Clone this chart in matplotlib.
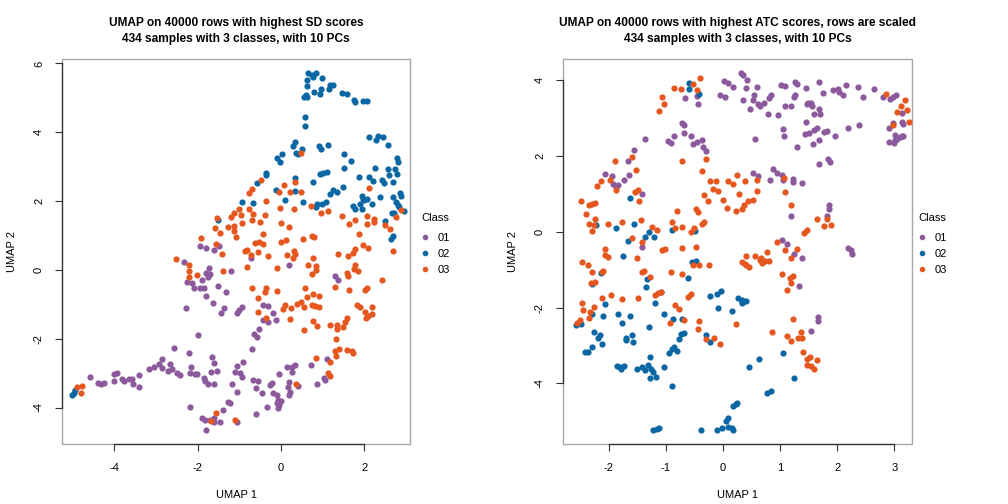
import numpy as np
import matplotlib
matplotlib.use("Agg")
import matplotlib.pyplot as plt
from matplotlib.patches import Rectangle
from matplotlib.lines import Line2D

# ---------- data ----------
class_labels = ["01", "02", "03"]
class_colors = ["#8C5A9C", "#0A67A3", "#E5571F"]

titles = [
    "UMAP on 40000 rows with highest SD scores\n434 samples with 3 classes, with 10 PCs",
    "UMAP on 40000 rows with highest ATC scores, rows are scaled\n434 samples with 3 classes, with 10 PCs",
]

# panel 1 (SD)
sd_01 = np.array([
    (-1.48, 0.70), (-1.94, 0.70), (-1.80, 0.65), (-1.62, 0.57),
    (-0.73, 0.34), (0.20, 0.15), (1.30, -0.17), (1.38, -0.29), (-1.20, -0.02),
    (-0.43, -1.02), (-0.32, -1.04), (-0.94, -1.07), (-1.01, -1.16), (-1.05, -1.26), (-0.18, -1.26),
    (-0.43, -1.47), (-0.31, -1.50), (-0.11, -1.46), (-0.52, -1.72), (-0.65, -1.87), (-0.57, -1.96), (-0.69, -2.30),
    (1.11, -2.60), (-0.91, -2.68), (-1.05, -2.78), (-1.11, -2.96), (-0.99, -3.00), (-0.93, -3.10),
    (0.15, -2.83), (0.26, -2.83), (0.34, -2.76), (0.26, -2.98), (0.73, -2.76), (-0.04, -3.03),
    (1.03, -3.13), (1.06, -3.20), (-0.68, -3.20), (-0.55, -3.22), (-0.26, -3.34), (-0.22, -3.29),
    (0.20, -3.25), (0.18, -3.39), (0.22, -3.54), (0.20, -3.63), (0.42, -3.37), (0.87, -3.32), (-1.17, -3.31),
    (-0.59, -3.44), (-0.46, -3.59), (-1.06, -3.56), (-0.18, -3.57), (-0.09, -3.63), (-0.06, -3.78), (-0.10, -3.88),
    (-0.04, -3.92), (0.00, -3.80), (-0.08, -4.02), (-0.34, -3.99), (-0.59, -4.19), (-1.06, -4.43), (-1.23, -3.88),
    (-2.32, 0.24), (-1.72, 0.05), (-1.80, -0.08), (-1.71, -0.12), (-1.75, -0.21), (-1.90, -0.29),
    (-2.26, -0.36), (-2.14, -0.39), (-2.10, -0.53), (-1.94, -0.53), (-1.85, -0.53), (-1.51, -0.47), (-1.33, -0.65),
    (-1.80, -0.77), (-1.63, -0.97), (-1.36, -1.10), (-1.43, -1.26), (-2.28, -1.10),
    (-2.00, -1.90), (-2.58, -2.28), (-2.20, -2.41), (-1.65, -2.54), (-1.60, -2.71),
    (-2.86, -2.60), (-2.94, -2.73), (-3.05, -2.83), (-3.18, -2.88), (-2.66, -2.74), (-2.86, -2.86),
    (-2.72, -2.93), (-2.62, -2.89), (-2.50, -3.00), (-2.42, -3.06),
    (-2.16, -2.81), (-2.18, -3.00), (-2.07, -3.02), (-2.02, -3.03), (-1.68, -2.98), (-1.53, -2.95),
    (-1.86, -3.15), (-1.82, -3.23), (-1.76, -3.32), (-1.62, -3.32), (-1.27, -3.85), (-1.40, -4.07), (-2.19, -3.99),
    (-1.90, -4.31), (-1.82, -4.36), (-1.70, -4.36), (-1.62, -4.31), (-1.62, -4.41), (-1.46, -4.42), (-1.79, -4.65),
    (-3.41, -3.05), (-3.42, -3.39), (-4.01, -3.03), (-3.94, -3.00), (-4.01, -3.23), (-3.82, -3.18),
    (-3.76, -3.23), (-3.66, -3.18), (-3.58, -3.18), (-3.56, -3.31),
    (-4.40, -3.29), (-4.26, -3.28), (-4.32, -3.31), (-4.58, -3.12),
])
sd_02 = np.array([
    (-1.51, 1.44), (-0.94, 1.98),
    (0.66, 5.71), (0.74, 5.66), (0.83, 5.73), (0.78, 5.61), (0.62, 5.51), (0.99, 5.58), (0.62, 5.34), (0.97, 5.27),
    (1.18, 5.37), (1.24, 5.37), (1.15, 5.25), (0.80, 5.17), (0.94, 5.10), (0.60, 5.08), (0.63, 5.03), (0.55, 5.03),
    (1.47, 5.13), (1.58, 5.11), (1.76, 4.95), (1.78, 4.88), (1.98, 4.90), (2.06, 4.90), (0.58, 4.43), (0.58, 4.18),
    (2.12, 3.85), (2.34, 3.90), (2.46, 3.85), (2.28, 3.77), (2.58, 3.62), (0.34, 3.71), (0.28, 3.60), (0.51, 3.51),
    (0.92, 3.60), (0.95, 3.51), (1.13, 3.63), (0.35, 3.40), (0.41, 3.38), (0.03, 3.36), (-0.09, 3.25), (-0.02, 3.13),
    (1.51, 3.38), (2.78, 3.26), (2.81, 3.14), (1.68, 3.16), (2.26, 2.97), (1.52, 2.97),
    (2.56, 2.93), (2.73, 2.92), (2.78, 2.80), (2.60, 2.75), (-0.37, 2.82), (-0.37, 2.75),
    (0.94, 2.80), (1.02, 2.83), (1.10, 2.85), (1.88, 2.70), (2.12, 2.70), (2.42, 2.61), (2.48, 2.53), (2.22, 2.59), (2.70, 2.55),
    (-0.58, 2.53), (0.34, 2.66), (0.76, 2.55), (-0.13, 2.33), (0.34, 2.29), (1.48, 2.41), (1.26, 2.32), (1.34, 2.27), (1.18, 2.20),
    (1.94, 2.14), (1.98, 2.07), (1.90, 1.93), (2.00, 2.03), (2.06, 2.07), (2.38, 2.12),
    (2.70, 2.12), (2.86, 2.24), (2.76, 1.98), (2.81, 1.88), (2.88, 2.14), (2.96, 1.72), (2.84, 1.83), (2.66, 1.66), (2.72, 1.64),
    (-0.67, 1.95), (0.10, 2.03), (0.52, 1.98), (0.86, 1.93), (0.98, 1.93), (1.08, 1.98), (0.84, 1.83),
    (1.74, 1.85), (1.78, 1.78), (2.19, 1.91), (1.94, 1.78), (2.51, 1.43), (2.68, 0.99), (2.64, 0.91),
    (-4.94, -3.49), (-4.98, -3.59), (-5.02, -3.65),
])
sd_03 = np.array([
    (-1.53, 1.51), (-1.01, 1.76), (-1.13, 1.65), (-1.19, 1.55), (-0.96, 1.59), (-0.94, 1.36), (-1.27, 1.26),
    (-1.12, 1.28), (-1.12, 1.12), (-1.59, 1.22), (-1.47, 1.07), (-1.08, 0.95), (-1.91, 0.92), (-1.56, 0.75), (-1.41, 0.46),
    (0.49, 3.41), (-0.47, 2.61), (0.07, 2.47), (0.34, 2.55), (-0.70, 2.35), (-0.76, 2.24), (-0.05, 2.27), (0.22, 2.27), (0.49, 2.27),
    (2.12, 2.38), (2.88, 1.75), (2.76, 1.54), (-0.37, 2.00), (-0.02, 1.80), (0.31, 1.76), (0.73, 1.86), (0.95, 1.66), (1.14, 1.72),
    (1.46, 1.56), (1.79, 1.44), (1.64, 1.33), (2.06, 1.56), (2.06, 1.33), (2.24, 1.48), (2.24, 1.40), (2.50, 1.30), (2.62, 1.18),
    (-0.76, 1.76), (-0.67, 1.62), (-0.70, 1.44), (-0.50, 1.40), (-0.38, 1.59), (-0.43, 1.05), (-0.01, 1.35), (0.20, 1.24),
    (1.88, 1.04), (2.70, 0.54),
    (-0.63, 0.78), (-0.52, 0.81), (-0.43, 0.75), (-0.87, 0.55), (-0.81, 0.59), (-0.55, 0.52), (-0.01, 0.81), (0.12, 0.88),
    (0.52, 0.90), (0.74, 0.99), (0.80, 0.96),
    (0.32, 0.54), (0.15, 0.43), (0.34, 0.45), (1.38, 0.47), (1.60, 0.40), (1.72, 0.49), (1.79, 0.60), (1.98, 0.72), (2.10, 0.64),
    (-0.73, 0.42), (-0.31, 0.40),
    (0.30, 0.34), (0.78, 0.34), (-0.81, 0.08), (-0.09, 0.05), (0.64, 0.13), (0.83, 0.12), (0.84, 0.00), (0.75, -0.12),
    (1.78, 0.15), (1.75, 0.02), (1.86, -0.03), (1.58, -0.10), (1.62, -0.17), (2.42, -0.29),
    (-0.69, -0.53), (-0.36, -0.53), (-0.38, -0.65), (-0.10, -0.60), (0.58, -0.53), (0.76, -0.70), (0.92, -0.76), (0.62, -0.80),
    (1.31, -0.51), (1.64, -0.58), (2.02, -0.58), (2.06, -0.53), (-0.54, -0.83), (-0.55, -1.23),
    (0.10, -1.02), (0.04, -1.14), (0.25, -1.10), (0.38, -0.99), (0.47, -0.92), (0.55, -1.07), (0.75, -1.02), (0.82, -1.05), (0.92, -1.07),
    (1.82, -1.02), (1.90, -1.07), (2.18, -1.09), (2.02, -1.23), (2.18, -1.28), (2.04, -1.41), (2.08, -1.34), (1.58, -1.41), (1.54, -1.50),
    (-0.36, -1.41), (0.22, -1.43), (0.78, -1.48), (0.87, -1.62), (0.55, -1.76), (1.19, -1.61), (1.35, -1.60), (1.34, -1.71), (1.48, -1.65),
    (1.32, -2.01), (1.40, -2.29), (1.30, -2.35), (1.32, -2.50), (1.58, -2.33), (1.70, -2.35), (1.74, -2.42), (0.84, -2.57), (1.18, -2.68),
    (1.14, -3.00), (1.18, -3.07), (0.36, -3.32), (-1.11, -4.36),
    (-2.53, 0.31), (-2.20, 0.15), (-2.22, -0.04), (-2.20, -0.21), (-2.02, -0.15), (-1.39, -0.03),
    (-1.56, -4.17), (-1.68, -4.38), (-4.90, -3.39), (-4.78, -3.37), (-4.81, -3.57),
])

# panel 2 (ATC, scaled rows)
atc_01 = np.array([
    (0.32, 4.19), (0.36, 4.15), (-0.45, 3.58), (0.02, 3.97), (0.09, 3.93), (0.17, 3.82), (-0.05, 3.61), (0.04, 3.57),
    (0.36, 3.49), (-0.66, 3.53), (-0.43, 3.36),
    (-0.71, 2.88), (-0.68, 2.81), (-0.68, 2.62), (-0.85, 2.54), (-0.56, 2.52), (-1.36, 2.45), (-0.96, 2.39), (-0.91, 2.34),
    (-0.52, 2.32), (-0.46, 2.37), (-0.36, 2.43), (-0.35, 2.25), (-0.29, 2.13), (-1.55, 2.17), (-1.66, 1.88),
    (-2.07, 1.52), (-1.95, 1.47), (-1.64, 1.49), (-1.73, 1.38), (-1.92, 1.25), (-1.84, 1.24), (-1.88, 1.18), (-1.42, 0.99), (-1.42, -0.39),
    (0.43, 4.01), (0.41, 3.80), (0.59, 3.82), (0.54, 3.61), (0.53, 3.47), (0.61, 3.38), (0.65, 3.33), (0.72, 3.40), (0.84, 3.62), (0.81, 3.54),
    (0.47, 3.23), (0.79, 3.11), (0.97, 3.07), (1.02, 3.88), (1.09, 3.86), (1.26, 3.95), (1.30, 3.89), (1.45, 3.80), (1.68, 3.95),
    (1.26, 3.61), (1.25, 3.57),
    (1.76, 3.65), (1.93, 3.73), (2.02, 3.77), (2.03, 3.69), (2.11, 3.60), (2.15, 3.88), (2.37, 3.81), (2.46, 3.55), (2.65, 3.76),
    (1.09, 3.31), (1.19, 3.31), (1.49, 3.40), (1.54, 3.41), (1.56, 3.32), (1.47, 3.38), (1.68, 3.23), (1.59, 3.11), (1.70, 3.10), (1.45, 2.91),
    (1.06, 2.71), (1.07, 2.53), (0.57, 2.45), (1.44, 2.58), (1.51, 2.60), (1.60, 2.69), (1.65, 2.74), (1.77, 2.63), (1.83, 2.67),
    (1.97, 2.52), (2.19, 2.74), (2.39, 2.82),
    (1.58, 2.33), (1.69, 2.41), (1.30, 2.23), (1.84, 1.93), (1.87, 1.84), (1.69, 1.78),
    (2.81, 3.57), (2.93, 3.51), (2.98, 3.57), (3.03, 3.60), (3.13, 3.13), (2.98, 2.88), (3.13, 2.91), (3.16, 2.85), (2.91, 2.74),
    (3.02, 2.56), (3.13, 2.54), (3.16, 2.53), (3.01, 2.41), (3.05, 2.46), (3.10, 2.50), (2.90, 2.36), (3.00, 2.34),
    (0.87, 1.65), (0.94, 1.56), (1.03, 1.49), (1.05, 1.36), (1.23, 1.40), (1.23, 1.31), (1.38, 1.29), (0.83, 1.36), (0.53, 1.56), (0.61, 1.46),
    (1.19, 0.41), (1.86, 0.70), (1.86, 0.59), (1.83, 0.41), (1.03, -0.21), (1.12, -0.32), (2.19, -0.43), (2.25, -0.49), (2.26, -0.58),
    (1.24, -0.58), (1.39, -0.68), (1.34, -1.44),
    (1.66, -2.24), (1.66, -2.36), (1.54, -2.61),
])
atc_02 = np.array([
    (-0.60, 3.92), (-0.60, 3.77), (-0.42, 3.63), (-1.63, 0.89), (-2.22, 0.17), (-1.87, 0.10), (-1.55, 0.20), (-1.29, -0.01),
    (-1.37, -0.14), (-1.20, -0.14), (-1.66, -0.23), (-0.89, 0.04), (-0.49, 0.02),
    (-1.75, -0.63), (-2.14, -1.08), (-2.29, -1.39), (-1.33, -1.25), (-0.61, -1.23), (-1.35, -1.45), (-0.54, -0.81), (-0.47, -0.77),
    (-2.57, -2.46), (-2.49, -2.44), (-2.30, -2.17), (-2.07, -1.91), (-2.10, -2.22), (-1.19, -1.89), (-1.08, -1.58), (-1.84, -2.18),
    (-1.63, -2.22), (-1.77, -2.40),
    (-1.29, -2.50), (-1.03, -2.18), (-0.87, -2.30), (-0.72, -2.29), (-0.22, -1.70), (-0.10, -1.64), (-0.03, -1.56), (-0.08, -2.02),
    (0.15, -2.08), (0.27, -1.74), (0.33, -1.85),
    (-0.30, -2.73), (-0.23, -2.92), (-2.25, -2.64), (-2.19, -2.81), (-2.15, -2.73), (-2.11, -2.97), (-2.36, -3.17), (-2.30, -3.05), (-2.42, -3.17),
    (-1.70, -2.79), (-1.60, -2.73), (-1.57, -2.90), (-1.69, -2.86), (-0.74, -2.70), (-0.68, -2.66), (-0.77, -2.83), (-0.81, -3.15),
    (-0.90, -3.10), (-0.95, -3.19), (-0.85, -3.05),
    (-1.27, -3.31), (-1.86, -3.54), (-1.80, -3.58), (-1.73, -3.54), (-1.79, -3.63), (-1.51, -3.63), (-1.41, -3.56), (-1.37, -3.65),
    (-1.31, -3.52), (-1.26, -3.63), (-1.22, -3.71), (-1.17, -3.83), (-1.28, -3.87),
    (-1.04, -3.56), (-0.89, -4.07), (0.22, -4.55), (0.18, -4.60), (0.08, -4.91), (0.06, -4.99), (-1.22, -5.23), (-1.16, -5.21),
    (-1.12, -5.19), (-0.38, -5.24),
    (-0.11, -5.24), (-0.01, -5.19), (0.09, -5.14), (0.15, -5.19), (0.18, -5.23),
    (0.34, -1.80), (0.41, -1.83), (0.33, -1.89), (1.05, -3.19), (0.64, -3.37), (0.46, -3.56), (1.24, -3.87), (0.77, -4.25),
    (0.84, -4.20), (0.24, -4.53),
])
atc_03 = np.array([
    (-0.40, 4.06), (-0.52, 3.89), (-0.85, 3.79), (-0.73, 3.77), (-0.45, 3.73), (-1.06, 3.55), (-1.03, 3.38), (-1.12, 3.18),
    (-0.29, 1.91), (-1.59, 1.97), (-1.89, 1.86), (-0.71, 1.86), (-1.53, 1.62), (-0.36, 1.60), (-2.14, 1.34), (-1.97, 1.36),
    (-2.21, 1.20), (-1.88, 1.09),
    (-0.23, 1.34), (-0.13, 1.34), (0.09, 1.34), (0.17, 1.27), (0.24, 1.51), (0.39, 1.34), (-0.17, 1.12), (-0.08, 1.07), (0.28, 1.00),
    (-1.54, 1.05), (-1.48, 1.11), (-0.34, 0.97), (-1.47, 0.81), (-0.26, 0.81), (0.00, 0.83), (0.37, 0.70), (0.07, 0.63),
    (0.23, 0.56), (0.34, 0.61),
    (-2.49, 0.80), (-2.35, 0.71), (-2.30, 0.74), (-2.24, 0.77), (-2.40, 0.47), (-0.81, 0.54), (-0.47, 0.61), (-0.43, 0.52),
    (-2.24, 0.33), (-2.34, 0.21), (-2.26, 0.17), (-2.29, 0.02), (-2.02, 0.21), (-1.76, 0.26), (-1.44, 0.32), (-1.24, 0.12),
    (-1.16, 0.06), (-1.60, -0.17),
    (-0.89, 0.26), (-0.71, 0.12), (-0.84, 0.10), (-0.50, 0.10), (-0.56, -0.01), (-0.36, 0.21), (-0.33, 0.26),
    (-1.41, -0.28), (-2.07, -0.45), (-1.07, -0.49), (-1.02, -0.46), (-0.71, -0.42), (-0.47, -0.40),
    (1.07, 1.42), (0.60, 1.36), (0.59, 1.07), (1.09, 1.05), (0.53, 0.84), (0.44, 0.80), (1.19, 0.70),
    (1.83, 0.34), (1.89, 0.17), (1.77, 0.14), (1.65, 0.33), (1.47, 0.04), (1.42, -0.03), (0.95, -0.27), (1.09, -0.49),
    (1.29, -0.46), (0.78, -0.54), (0.41, -0.65), (0.57, -0.63), (0.67, -0.69),
    (2.85, 3.63), (3.18, 3.47), (3.12, 3.33), (3.23, 3.22), (3.04, 3.16), (3.25, 2.89), (2.97, 2.81),
    (-2.46, -0.79), (-2.37, -0.88), (-2.07, -0.61), (-2.02, -0.66), (-1.51, -0.68), (-2.29, -1.07), (-2.12, -1.05), (-2.10, -1.03),
    (-2.31, -1.34), (-2.24, -1.32),
    (-1.42, -1.07), (-1.38, -1.03), (-1.28, -1.19), (-0.91, -1.07), (-0.71, -1.12),
    (-0.53, -0.88), (-0.42, -0.88), (-0.24, -0.88), (0.33, -0.79), (0.39, -0.85),
    (-2.11, -1.74), (-1.96, -1.66), (-1.77, -1.78), (-1.49, -1.76), (-2.46, -1.87), (-2.45, -2.07), (-2.33, -2.11), (-2.25, -1.98),
    (-2.35, -2.27), (-2.50, -2.33), (-2.56, -2.40),
    (-1.19, -1.67), (-1.14, -1.61), (-1.09, -1.58), (-0.84, -1.92), (-0.77, -2.05), (-0.68, -2.33), (-0.92, -2.42), (-0.62, -1.71), (-0.56, -1.64),
    (-0.42, -2.36), (-0.44, -2.57), (0.23, -2.44), (-0.30, -2.83), (-0.15, -2.79), (-0.06, -2.97),
    (0.41, -0.88), (0.46, -0.92), (0.65, -0.75), (0.68, -0.82), (0.74, -0.77), (0.81, -0.77), (1.20, -0.70),
    (1.04, -1.12), (1.17, -1.23), (1.23, -1.17), (1.19, -1.35), (1.13, -1.54), (1.23, -2.29), (0.86, -2.65),
    (1.13, -2.75), (1.20, -2.88), (1.31, -2.79), (1.37, -2.64), (1.38, -2.81), (1.41, -3.18), (1.48, -3.37), (1.52, -3.31),
    (1.64, -3.39), (1.48, -3.52), (1.54, -3.54), (1.60, -3.63),
])

sd_xticks = [-4, -2, 0, 2]
sd_yticks = [-4, -2, 0, 2, 4, 6]
atc_xticks = [-2, -1, 0, 1, 2, 3]
atc_yticks = [-4, -2, 0, 2, 4]

# ---------- layout (pixel boxes of the two panels) ----------
W, H = 1008, 504
FONT = ["Liberation Sans", "DejaVu Sans"]

def _axes_rect(x0, x1, y0, y1):
    return [x0 / W, 1 - y1 / H, (x1 - x0) / W, (y1 - y0) / H]

def _panel(fig, rect, groups, xlim, ylim, xticks, yticks, title, legend_xy):
    ax = fig.add_axes(rect)
    for pts, col in zip(groups, class_colors):
        ax.scatter(pts[:, 0], pts[:, 1], s=20, c=col, linewidths=0, zorder=3)
    ax.set_xlim(*xlim); ax.set_ylim(*ylim)
    ax.set_xticks(xticks); ax.set_yticks(yticks)
    ax.set_xticklabels([str(t) for t in xticks], fontsize=8, family=FONT)
    ax.set_yticklabels([str(t) for t in yticks], fontsize=8, family=FONT,
                       rotation=90, va="center")
    ax.tick_params(length=5, width=0.8, color="#333333", pad=9)
    ax.tick_params(axis="y", pad=8)
    for side in ("top", "right"):
        ax.spines[side].set_visible(False)
    ax.spines["bottom"].set_bounds(xticks[0], xticks[-1])
    ax.spines["left"].set_bounds(yticks[0], yticks[-1])
    for side in ("bottom", "left"):
        ax.spines[side].set_color("#333333"); ax.spines[side].set_linewidth(0.9)
    ax.add_patch(Rectangle((0, 0), 1, 1, transform=ax.transAxes, fill=False,
                           ec="#a8a8a8", lw=1.0, clip_on=False, zorder=1))
    ax.set_xlabel("UMAP 1", fontsize=8, family=FONT, labelpad=12)
    ax.set_ylabel("UMAP 2", fontsize=8, family=FONT, labelpad=12)
    ax.set_title(title, fontsize=8.6, fontweight="bold", family=FONT,
                 pad=12.5, linespacing=1.45)

    handles = [Line2D([], [], ls="none", marker="o", ms=4, mew=0, color=c) for c in class_colors]
    leg = fig.legend(handles, class_labels, title="Class", loc="upper left",
                     bbox_to_anchor=legend_xy, frameon=False,
                     alignment="left", handlelength=0.8,
                     handletextpad=0.7, labelspacing=0.55, borderpad=0,
                     borderaxespad=0, prop={"family": FONT, "size": 8})
    leg.get_title().set_family(FONT)
    leg.get_title().set_fontsize(8)
    leg._legend_box.sep = 7
    return ax

fig = plt.figure(figsize=(W / 100, H / 100), dpi=100)
fig.patch.set_facecolor("white")

_panel(fig, _axes_rect(62, 410, 59, 444), [sd_01, sd_02, sd_03],
       (-5.26, 3.10), (-5.06, 6.13), sd_xticks, sd_yticks, titles[0],
       (421 / W, 1 - 213 / H))
_panel(fig, _axes_rect(563, 912, 59, 444), [atc_01, atc_02, atc_03],
       (-2.80, 3.31), (-5.60, 4.56), atc_xticks, atc_yticks, titles[1],
       (918 / W, 1 - 213 / H))

fig.savefig("out.png", dpi=100)
